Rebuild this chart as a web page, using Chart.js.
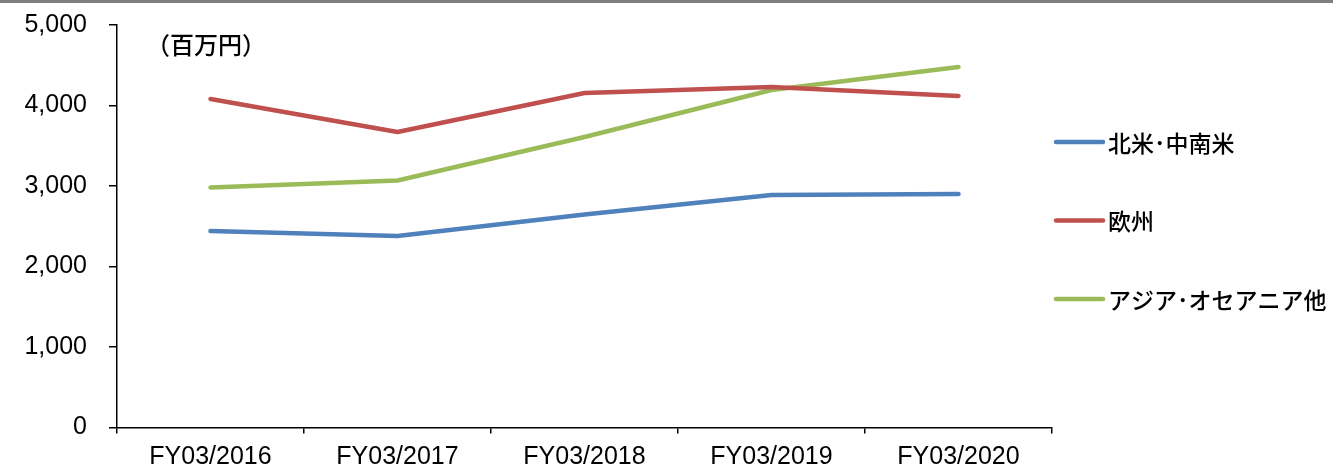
<!DOCTYPE html>
<html>
<head>
<meta charset="utf-8">
<script src="https://cdn.jsdelivr.net/npm/chart.js@4"></script>
<style>
    html, body { margin: 0; padding: 0; background: #fff; }
    #wrap { width: 1333px; height: 468px; position: relative; }
</style>
</head>
<body>
<div id="wrap"><canvas id="regionChart"></canvas></div>
<script>
// 年度
const years = ['FY03/2016', 'FY03/2017', 'FY03/2018', 'FY03/2019', 'FY03/2020'];
// 地域別売上（百万円）
const northSouthAmerica = [2441, 2379, 2645, 2888, 2900];
const europe = [4081, 3671, 4155, 4230, 4118];
const asiaOceania = [2981, 3068, 3609, 4193, 4478];
const seriesNames = ['北米･中南米', '欧州', 'アジア･オセアニア他'];
const seriesColors = ['#4F81BD', '#C0504D', '#9BBB59'];
const yTicks = [0, 1000, 2000, 3000, 4000, 5000];
const unitLabel = '（百万円）';

const fontFamily = '"Liberation Sans", Arial, "Noto Sans CJK JP", sans-serif';
const jpFont = '"Noto Sans CJK JP", "Liberation Sans", sans-serif';

// 上部のグレー帯・単位・凡例を描く
const decorPlugin = {
    id: 'decor',
    beforeDraw(chart) {
        const ctx = chart.ctx;
        ctx.save();
        ctx.fillStyle = '#7f7f7f';
        ctx.fillRect(0, 0, chart.width, 3);
        ctx.restore();
    },
    afterDraw(chart) {
        const ctx = chart.ctx;
        ctx.save();
        ctx.fillStyle = '#000';
        ctx.font = '500 24px ' + jpFont;
        ctx.textBaseline = 'middle';
        ctx.fillText(unitLabel, 146, 45);

        // 凡例
        const legendX = chart.chartArea.right + 4;
        const legendTop = 142;
        const legendGap = 78.5;
        ctx.font = '500 23px ' + jpFont;
        chart.data.datasets.forEach((ds, i) => {
            const y = legendTop + i * legendGap;
            ctx.strokeStyle = ds.borderColor;
            ctx.lineWidth = 4.5;
            ctx.lineCap = 'round';
            ctx.beginPath();
            ctx.moveTo(legendX, y);
            ctx.lineTo(legendX + 47, y);
            ctx.stroke();
            ctx.fillStyle = '#000';
            ctx.fillText(ds.label, legendX + 52, y + 1);
        });
        ctx.restore();
    }
};

const makeDataset = (label, data, color) => ({
    label: label,
    data: data,
    borderColor: color,
    backgroundColor: color,
    borderWidth: 4.5,
    borderCapStyle: 'round',
    borderJoinStyle: 'round',
    pointRadius: 0,
    tension: 0,
    fill: false
});

new Chart(document.getElementById('regionChart'), {
    type: 'line',
    data: {
        labels: years,
        datasets: [
            makeDataset(seriesNames[0], northSouthAmerica, seriesColors[0]),
            makeDataset(seriesNames[1], europe, seriesColors[1]),
            makeDataset(seriesNames[2], asiaOceania, seriesColors[2])
        ]
    },
    options: {
        responsive: true,
        maintainAspectRatio: false,
        animation: false,
        layout: {
            padding: { left: 0, right: 281, top: 25, bottom: 0 }
        },
        plugins: {
            legend: { display: false },
            tooltip: { enabled: false }
        },
        scales: {
            x: {
                offset: true,
                grid: {
                    offset: true,
                    drawOnChartArea: false,
                    drawTicks: true,
                    tickLength: 6,
                    color: '#000',
                    lineWidth: 1.5
                },
                border: { color: '#000', width: 1.5 },
                ticks: {
                    color: '#000',
                    padding: 9,
                    maxRotation: 0,
                    font: { family: fontFamily, size: 25 }
                },
                afterFit(scale) {
                    scale.height = 40.5;
                    scale.paddingLeft = 0;
                    scale.paddingRight = 0;
                }
            },
            y: {
                min: 0,
                max: 5000,
                afterBuildTicks(scale) {
                    scale.ticks = yTicks.map(v => ({ value: v }));
                },
                grid: {
                    drawOnChartArea: false,
                    drawTicks: true,
                    tickLength: 8,
                    color: '#000',
                    lineWidth: 1.5
                },
                border: { color: '#000', width: 1.5 },
                ticks: {
                    color: '#000',
                    padding: 22,
                    font: { family: fontFamily, size: 25 },
                    callback: v => v.toLocaleString('en-US')
                },
                afterFit(scale) {
                    scale.width = 117;
                    scale.paddingTop = 0;
                    scale.paddingBottom = 0;
                }
            }
        }
    },
    plugins: [decorPlugin]
});
</script>
</body>
</html>
